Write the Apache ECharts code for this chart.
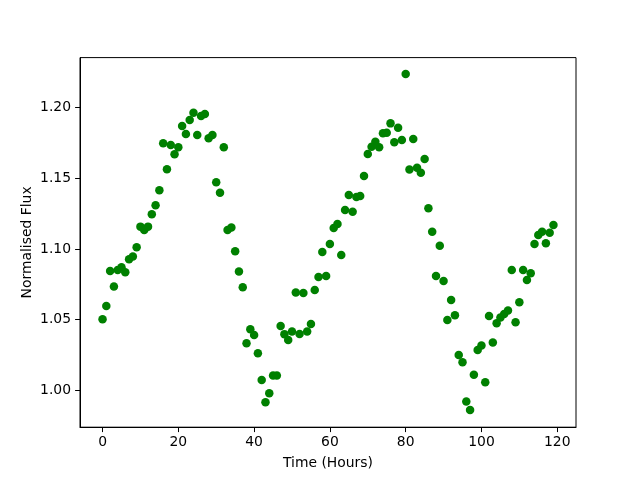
<!DOCTYPE html>
<html>
<head>
<meta charset="utf-8">
<script src="https://cdn.jsdelivr.net/npm/echarts@6/dist/echarts.min.js"></script>
<style>html,body{margin:0;padding:0;background:#fff;}#c{width:640px;height:480px;}</style>
</head>
<body>
<div id="c"></div>
<script>
var hours = [0,1,2,3,4,5,6,7,8,9,10,11,12,13,14,15,16,17,18,19,20,21,22,23,24,25,26,27,28,29,30,31,32,33,34,35,36,37,38,39,40,41,42,43,44,45,46,47,48,49,50,51,52,53,54,55,56,57,58,59,60,61,62,63,64,65,66,67,68,69,70,71,72,73,74,75,76,77,78,79,80,81,82,83,84,85,86,87,88,89,90,91,92,93,94,95,96,97,98,99,100,101,102,103,104,105,106,107,108,109,110,111,112,113,114,115,116,117,118,119];
var flux = [1.0503,1.0597,1.0845,1.0734,1.0852,1.0871,1.0835,1.0927,1.0946,1.1012,
1.1158,1.1134,1.1158,1.1245,1.1309,1.1415,1.1747,1.1563,1.1735,1.1669,
1.1719,1.1869,1.1813,1.1912,1.1963,1.1806,1.1940,1.1954,1.1782,1.1806,
1.1471,1.1398,1.1719,1.1134,1.1151,1.0984,1.0840,1.0729,1.0334,1.0433,
1.0392,1.0263,1.0074,0.9917,0.9980,1.0106,1.0106,1.0456,1.0398,1.0357,
1.0416,1.0692,1.0399,1.0688,1.0416,1.0470,1.0710,1.0802,1.0979,1.0809,
1.1035,1.1148,1.1177,1.0958,1.1276,1.1382,1.1264,1.1367,1.1375,1.1516,
1.1671,1.1723,1.1758,1.1719,1.1818,1.1822,1.1888,1.1754,1.1857,1.1770,
1.2237,1.1562,1.1777,1.1574,1.1539,1.1636,1.1288,1.1122,1.0809,1.1023,
1.0774,1.0498,1.0640,1.0531,1.0251,1.0199,0.9921,0.9862,1.0110,1.0286,
1.0317,1.0058,1.0527,1.0338,1.0475,1.0515,1.0540,1.0565,1.0852,1.0482,
1.0623,1.0852,1.0781,1.0828,1.1035,1.1099,1.1122,1.1040,1.1115,1.1170];
var xTicks = [0,20,40,60,80,100,120];
var yTicks = [1.00,1.05,1.10,1.15,1.20];

var pts = hours.map(function(h,i){return [h, flux[i]];});
var font = 'DejaVu Sans';
var chart = echarts.init(document.getElementById('c'), null, {renderer:'canvas'});
chart.setOption({
  animation:false,
  backgroundColor:'#fff',
  grid:{left:80,right:64,top:57.6,bottom:52.8,show:true,borderColor:'#000',borderWidth:1,backgroundColor:'transparent'},
  xAxis:{type:'value',min:-5.95,max:124.95,
    name:'Time (Hours)',nameLocation:'middle',nameGap:29,nameMoveOverlap:false,
    nameTextStyle:{fontFamily:font,fontSize:13.9,color:'#000'},
    splitLine:{show:false},
    axisLine:{show:true,onZero:false,lineStyle:{color:'#000',width:1}},
    axisTick:{show:true,length:4.9,lineStyle:{color:'#000',width:1},customValues:xTicks},
    axisLabel:{fontFamily:font,fontSize:13.9,color:'#000',margin:8,customValues:xTicks,formatter:function(v){return String(v);}}
  },
  yAxis:{type:'value',min:0.974,max:1.2353,
    name:'Normalised Flux',nameLocation:'middle',nameGap:46,nameRotate:90,nameMoveOverlap:false,
    nameTextStyle:{fontFamily:font,fontSize:13.9,color:'#000'},
    splitLine:{show:false},
    axisLine:{show:true,onZero:false,lineStyle:{color:'#000',width:1}},
    axisTick:{show:true,length:4.9,lineStyle:{color:'#000',width:1},customValues:yTicks},
    axisLabel:{fontFamily:font,fontSize:13.9,color:'#000',margin:9,customValues:yTicks,formatter:function(v){return v.toFixed(2);}}
  },
  series:[{type:'scatter',data:pts,symbol:'circle',symbolSize:8.5,itemStyle:{color:'#008000',opacity:1}}]
});
</script>
</body>
</html>
